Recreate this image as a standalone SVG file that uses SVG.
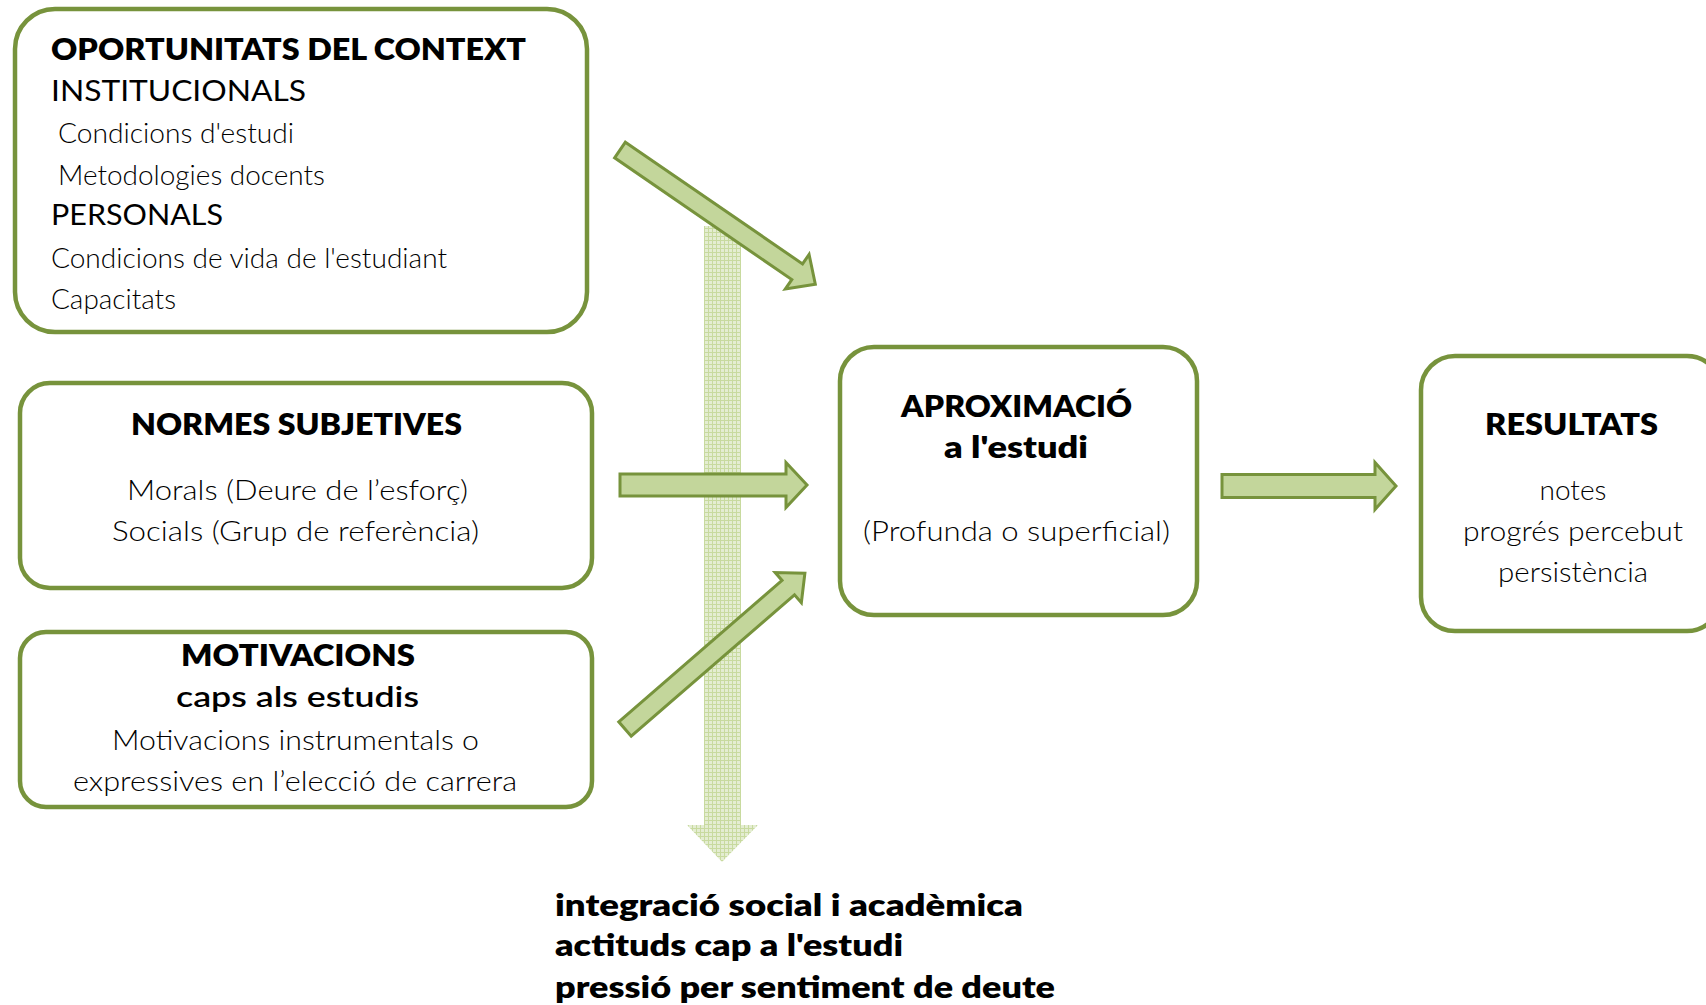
<svg xmlns="http://www.w3.org/2000/svg" width="1706" height="1005" viewBox="0 0 1706 1005">
<style>
.box{fill:#fff;stroke:#77933c;stroke-width:4.5}
.arr{fill:#c3d69b;stroke:#77933c;stroke-width:3;stroke-linejoin:miter}
.h{font-family:Lato,"Liberation Sans",sans-serif;font-weight:800;font-size:31px;fill:#000}
.t{font-family:Lato,"Liberation Sans",sans-serif;font-weight:300;font-size:28px;fill:#000}
.m{font-family:Lato,"Liberation Sans",sans-serif;font-weight:400;font-size:28px;fill:#000}
.s{font-family:Lato,"Liberation Sans",sans-serif;font-weight:600;font-size:29px;fill:#000}
.b{font-family:Lato,"Liberation Sans",sans-serif;font-weight:800;font-size:30px;fill:#000}
</style>
<defs>
<pattern id="grid" width="4" height="4" patternUnits="userSpaceOnUse">
<rect width="4" height="4" fill="#e4edd2"/>
<path d="M0,0.5H4M0.5,0V4" stroke="#c8da9f" stroke-width="1"/>
</pattern>
</defs>
<g id="connectors">
<path id="down-arrow" d="M704,226H741V825H758L722,862L687,825H704Z" fill="url(#grid)"/>
<path class="arr" transform="translate(620,150) rotate(34.5)" d="M0,-9.5H215V-21L237,0L215,21V9.5H0Z"/>
<path class="arr" transform="translate(620,485)" d="M0,-11H166V-22.5L187,0L166,22.5V11H0Z"/>
<path class="arr" transform="translate(625,729) rotate(-40.9)" d="M0,-9.5H216V-20L238,0L216,20V9.5H0Z"/>
<path class="arr" transform="translate(1222,486)" d="M0,-11.5H153V-23.5L174,0L153,23.5V11.5H0Z"/>
</g>
<g id="oportunitats">
<rect class="box" x="15" y="9" width="572" height="323" rx="40"/>
<text class="h" x="51" y="60" textLength="475" lengthAdjust="spacingAndGlyphs">OPORTUNITATS DEL CONTEXT</text>
<text class="m" x="51" y="101" textLength="255" lengthAdjust="spacingAndGlyphs">INSTITUCIONALS</text>
<text class="t" x="58" y="143" textLength="236" lengthAdjust="spacingAndGlyphs">Condicions d'estudi</text>
<text class="t" x="58" y="185" textLength="267" lengthAdjust="spacingAndGlyphs">Metodologies docents</text>
<text class="m" x="51" y="225" textLength="172" lengthAdjust="spacingAndGlyphs">PERSONALS</text>
<text class="t" x="51" y="268" textLength="396" lengthAdjust="spacingAndGlyphs">Condicions de vida de l'estudiant</text>
<text class="t" x="51" y="309" textLength="125" lengthAdjust="spacingAndGlyphs">Capacitats</text>
</g>
<g id="normes">
<rect class="box" x="20" y="383" width="572" height="205" rx="30"/>
<text class="h" x="131" y="435" textLength="331" lengthAdjust="spacingAndGlyphs">NORMES SUBJETIVES</text>
<text class="t" x="127" y="500" textLength="341" lengthAdjust="spacingAndGlyphs">Morals (Deure de l’esforç)</text>
<text class="t" x="112" y="541" textLength="367" lengthAdjust="spacingAndGlyphs">Socials (Grup de referència)</text>
</g>
<g id="motivacions">
<rect class="box" x="20" y="632" width="572" height="175" rx="26"/>
<text class="h" x="181" y="666" textLength="234" lengthAdjust="spacingAndGlyphs">MOTIVACIONS</text>
<text class="s" x="176" y="707" textLength="243" lengthAdjust="spacingAndGlyphs">caps als estudis</text>
<text class="t" x="112" y="750" textLength="367" lengthAdjust="spacingAndGlyphs">Motivacions instrumentals o</text>
<text class="t" x="73" y="791" textLength="444" lengthAdjust="spacingAndGlyphs">expressives en l’elecció de carrera</text>
</g>
<g id="aproximacio">
<rect class="box" x="840" y="347" width="357" height="268" rx="34"/>
<text class="h" x="901" y="417" textLength="231" lengthAdjust="spacingAndGlyphs">APROXIMACIÓ</text>
<text class="h" x="944" y="458" textLength="144" lengthAdjust="spacingAndGlyphs">a l'estudi</text>
<text class="t" x="863" y="541" textLength="307" lengthAdjust="spacingAndGlyphs">(Profunda o superficial)</text>
</g>
<g id="resultats">
<rect class="box" x="1421" y="356" width="300" height="275" rx="34"/>
<text class="h" x="1485" y="435" textLength="173" lengthAdjust="spacingAndGlyphs">RESULTATS</text>
<text class="t" x="1573" y="500" text-anchor="middle">notes</text>
<text class="t" x="1463" y="541" textLength="220" lengthAdjust="spacingAndGlyphs">progrés percebut</text>
<text class="t" x="1498" y="582" textLength="150" lengthAdjust="spacingAndGlyphs">persistència</text>
</g>
<g id="integracio">
<text class="b" x="555" y="916" textLength="468" lengthAdjust="spacingAndGlyphs">integració social i acadèmica</text>
<text class="b" x="555" y="956" textLength="348" lengthAdjust="spacingAndGlyphs">actituds cap a l'estudi</text>
<text class="b" x="555" y="998" textLength="500" lengthAdjust="spacingAndGlyphs">pressió per sentiment de deute</text>
</g>
</svg>
